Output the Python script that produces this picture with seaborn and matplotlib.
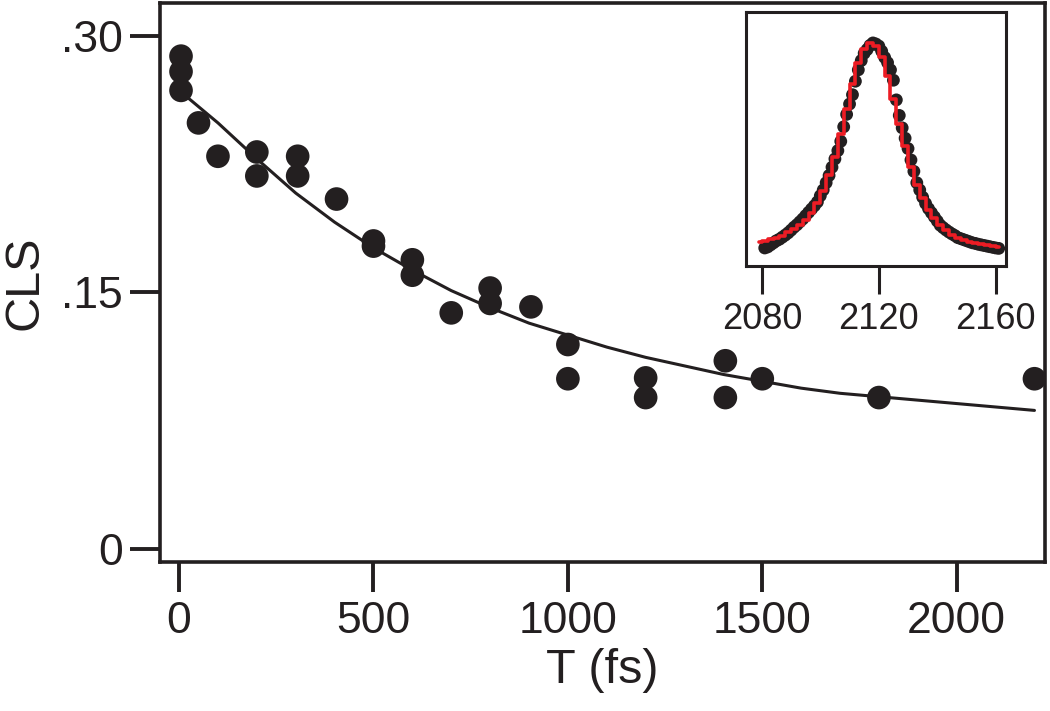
import numpy as np
import pandas as pd
import matplotlib
matplotlib.use("Agg")
import matplotlib.pyplot as plt
import seaborn as sns

# ---------------- data ----------------
# main panel: CLS decay
t_fs = [5, 5, 5, 50, 100, 200, 200, 305, 305, 405, 500, 500, 600, 600,
        700, 800, 800, 905, 1000, 1000, 1200, 1200, 1405, 1405, 1500, 1800, 2200]
cls = [0.288, 0.279, 0.268, 0.249, 0.2295, 0.232, 0.218, 0.2295, 0.218, 0.2045,
       0.180, 0.177, 0.169, 0.160, 0.138, 0.1525, 0.1435, 0.1415, 0.1195, 0.0995,
       0.100, 0.0885, 0.110, 0.0885, 0.0995, 0.0885, 0.0995]

fit_t = [0, 100, 200, 300, 400, 500, 600, 700, 800, 900, 1000, 1100, 1200,
         1300, 1400, 1500, 1600, 1700, 1800, 1900, 2000, 2100, 2200]
fit_cls = [0.268, 0.249, 0.228, 0.208, 0.191, 0.176, 0.163, 0.151, 0.141, 0.132,
           0.125, 0.118, 0.112, 0.107, 0.102, 0.098, 0.094, 0.091, 0.089, 0.087,
           0.085, 0.083, 0.081]

# inset: absorption spectrum (normalised)
wn = list(range(2081, 2162))
absorb = [0.01, 0.015, 0.025, 0.035, 0.045, 0.052, 0.062, 0.072, 0.083, 0.096,
          0.11, 0.122, 0.136, 0.15, 0.166, 0.182, 0.198, 0.214, 0.232, 0.262,
          0.29, 0.325, 0.36, 0.40, 0.44, 0.48, 0.525, 0.595, 0.655, 0.705,
          0.75, 0.815, 0.87, 0.915, 0.95, 0.968, 0.988, 1.0, 0.995, 0.985,
          0.96, 0.93, 0.905, 0.87, 0.82, 0.725, 0.65, 0.59, 0.54, 0.49,
          0.435, 0.38, 0.325, 0.29, 0.255, 0.225, 0.20, 0.18, 0.16, 0.14,
          0.12, 0.108, 0.097, 0.087, 0.078, 0.07, 0.06, 0.055, 0.05, 0.045,
          0.04, 0.035, 0.032, 0.028, 0.025, 0.022, 0.019, 0.016, 0.013, 0.01,
          0.008]

fit_wn = list(range(2079, 2162, 2))
fit_abs = [0.04, 0.045, 0.052, 0.06, 0.07, 0.085, 0.10, 0.12, 0.145, 0.18,
           0.225, 0.285, 0.36, 0.45, 0.56, 0.68, 0.80, 0.905, 0.97, 1.0,
           0.985, 0.93, 0.84, 0.73, 0.61, 0.50, 0.40, 0.315, 0.25, 0.195,
           0.155, 0.12, 0.095, 0.075, 0.06, 0.05, 0.04, 0.033, 0.028, 0.024,
           0.02, 0.017]

main_xticks = [0, 500, 1000, 1500, 2000]
main_yticks = [0, 0.15, 0.30]
main_yticklabels = ["0", ".15", ".30"]
inset_xticks = [2080, 2120, 2160]

# ---------------- style ----------------
sns.set_style("white")
plt.rcParams["font.family"] = ["Liberation Sans", "DejaVu Sans"]
ink = "#231f20"

fig = plt.figure(figsize=(10.5, 7.11), dpi=100)
ax = fig.add_axes([0.1524, 0.21, 0.8428, 0.7854])

df_pts = pd.DataFrame({"T": t_fs, "CLS": cls})
df_fit = pd.DataFrame({"T": fit_t, "CLS": fit_cls})
sns.lineplot(data=df_fit, x="T", y="CLS", ax=ax, color=ink, linewidth=2.2,
             zorder=2, sort=False)
sns.scatterplot(data=df_pts, x="T", y="CLS", ax=ax, color=ink, s=290,
                edgecolor="none", linewidth=0, zorder=3)

ax.set_xlim(-49, 2227)
ax.set_ylim(-0.0074, 0.3189)
ax.set_xticks(main_xticks)
ax.set_xticklabels([str(v) for v in main_xticks])
ax.set_yticks(main_yticks)
ax.set_yticklabels(main_yticklabels)
ax.tick_params(axis="both", direction="out", length=21.5, width=2.8,
               color=ink, labelcolor=ink, labelsize=32,
               bottom=True, left=True, top=False, right=False)
ax.tick_params(axis="x", pad=7)
ax.tick_params(axis="y", pad=5)
for sp in ax.spines.values():
    sp.set_visible(True)
    sp.set_linewidth(2.6)
    sp.set_color(ink)
ax.set_xlabel("T (fs)", fontsize=35, color=ink, labelpad=4)
ax.set_ylabel("CLS", fontsize=35, color=ink, labelpad=10)

# ---------------- inset ----------------
axi = fig.add_axes([0.7105, 0.6259, 0.2476, 0.3577])
df_sp = pd.DataFrame({"wn": wn, "A": absorb})
df_spfit = pd.DataFrame({"wn": fit_wn, "A": fit_abs})
sns.scatterplot(data=df_sp, x="wn", y="A", ax=axi, color=ink, s=85,
                edgecolor="none", linewidth=0, zorder=2)
sns.lineplot(data=df_spfit, x="wn", y="A", ax=axi, color="#ed1c24",
             linewidth=2.6, zorder=3, drawstyle="steps-mid", sort=False)
axi.set_xlim(2074.6, 2163.5)
axi.set_ylim(-0.077, 1.151)
axi.set_xticks(inset_xticks)
axi.set_xticklabels([str(v) for v in inset_xticks])
axi.set_yticks([])
axi.tick_params(axis="x", direction="out", length=20, width=2.2,
                color=ink, labelcolor=ink, labelsize=26, pad=6,
                bottom=True, top=False)
for sp in axi.spines.values():
    sp.set_visible(True)
    sp.set_linewidth(2.2)
    sp.set_color(ink)
axi.set_xlabel("")
axi.set_ylabel("")
axi.set_facecolor("white")

fig.savefig("out.png", dpi=100)
